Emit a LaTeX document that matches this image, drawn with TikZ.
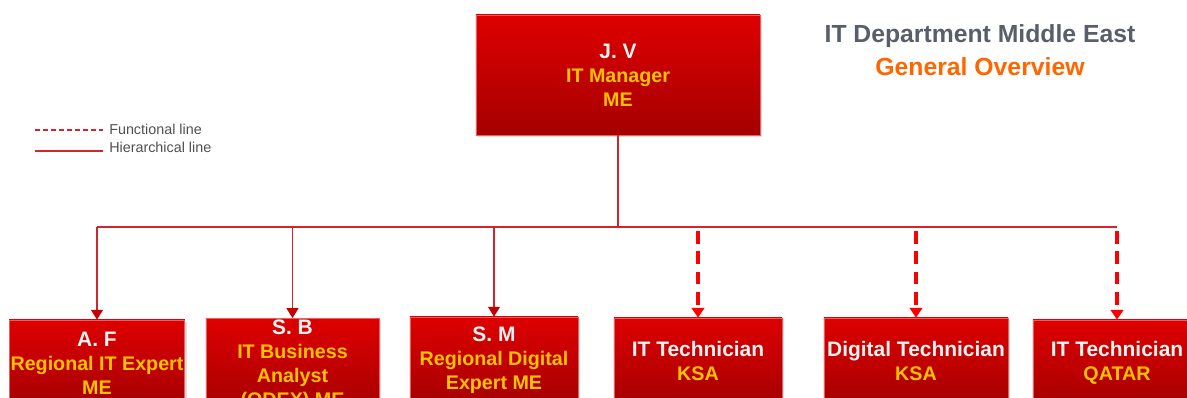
\documentclass[tikz,border=0pt]{standalone}
\usepackage{fontspec}
\setmainfont{Liberation Sans}
\usetikzlibrary{arrows.meta,positioning,calc,shadows}
\definecolor{boxtop}{RGB}{222,0,0}
\definecolor{boxbot}{RGB}{165,0,0}
\definecolor{boxedge}{RGB}{232,96,96}
\definecolor{namewhite}{RGB}{242,242,242}
\definecolor{roleyellow}{RGB}{255,194,0}
\definecolor{titlegray}{RGB}{89,94,104}
\definecolor{titleorange}{RGB}{255,102,0}
\definecolor{hierred}{RGB}{208,36,46}
\definecolor{tipred}{RGB}{196,0,0}
\definecolor{funcred}{RGB}{255,0,0}
\definecolor{leggray}{RGB}{80,80,80}
\newcommand{\Nm}[1]{{\fontsize{14.9pt}{17pt}\selectfont\color{namewhite}#1}}
\newcommand{\Rl}[1]{{\fontsize{14pt}{17pt}\selectfont\color{roleyellow}#1}}
\tikzset{
  orgbox/.style={draw=boxedge, line width=0.5pt, top color=boxtop, bottom color=boxbot,
                 drop shadow={shadow xshift=1.2pt, shadow yshift=-1.2pt, opacity=0.25},
                 inner sep=1pt, align=center, font=\bfseries\fontsize{14pt}{17pt}\selectfont},
  mgrbox/.style={orgbox, minimum width=7.1cm, minimum height=3cm},
  rolebox/.style={orgbox, minimum width=#1, minimum height=2.15cm},
  hier/.style={hierred, line width=0.9pt},
  hierarr/.style={hier, -{Triangle[width=8.5pt, length=7pt, color=tipred]}},
  funcarr/.style={funcred, line width=2.6pt, dash pattern=on 9pt off 5.5pt,
                  -{Triangle[width=9pt, length=7pt]}},
  legline/.style={hierred, line width=0.9pt},
  legtext/.style={leggray, anchor=west, inner sep=0pt, font=\fontsize{10.2pt}{12pt}\selectfont},
}
\begin{document}
\begin{tikzpicture}[x=0.025cm, y=-0.025cm]
  \useasboundingbox (0,0) rectangle (1187,398);
  \clip (0,0) rectangle (1187,398);
  % top of the chart
  \node[mgrbox] (jv) at (618,75) {\Nm{J. V}\\ \Rl{IT Manager}\\ \Rl{ME}};
  \node[titlegray, font=\bfseries\fontsize{17.6pt}{20pt}\selectfont] (ttl) at (980,36) {IT Department Middle East};
  \node[titleorange, font=\bfseries\fontsize{17.6pt}{20pt}\selectfont] (sub) at (980,67) {General Overview};
  % legend
  \coordinate (fa) at (35,130); \coordinate (fb) at (103,130);
  \coordinate (ha) at (35,151); \coordinate (hb) at (103,151);
  \draw[legline, dash pattern=on 3.5pt off 2.2pt] (fa) -- (fb);
  \draw[legline] (ha) -- (hb);
  \node[legtext] (ftx) at (109,129) {Functional line};
  \node[legtext] (htx) at (109,147) {Hierarchical line};
  % staff
  \node[rolebox=4.35cm] (af) at (97,363) {\Nm{A. F}\\ \Rl{Regional IT Expert}\\ \Rl{ME}};
  \node[rolebox=4.33cm] (sb) at (292.5,365) {\Nm{S. B}\\ \Rl{IT Business}\\ \Rl{Analyst}\\ \Rl{(ODEX) ME}};
  \node[rolebox=4.2cm] (sm) at (494,360) {\Nm{S. M}\\ \Rl{Regional Digital}\\ \Rl{Expert ME}};
  \node[rolebox=4.2cm] (itk) at (698,361) {\Nm{IT Technician}\\ \Rl{KSA}};
  \node[rolebox=4.6cm] (dtk) at (916,361) {\Nm{Digital Technician}\\ \Rl{KSA}};
  \node[rolebox=4.2cm] (itq) at (1117,363) {\Nm{IT Technician}\\ \Rl{QATAR}};
  % connectors
  \coordinate (bus) at (618,227);
  \draw[hier] (jv.south) -- (bus);
  \draw[hier] (bus-|af.north) -- (bus-|itq.north);
  \foreach \n in {af,sb,sm}{\draw[hierarr] (bus-|\n.north) -- (\n.north);}
  \foreach \n in {itk,dtk,itq}{\draw[funcarr] ($(bus-|\n.north)+(0,4)$) -- (\n.north);}
\end{tikzpicture}
\end{document}
